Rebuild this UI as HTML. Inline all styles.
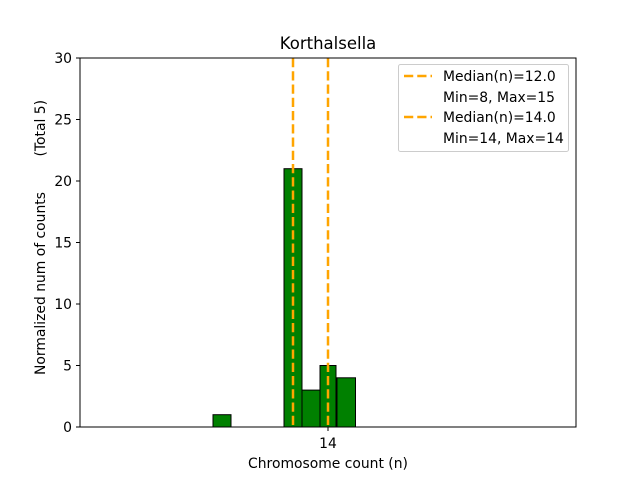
<!DOCTYPE html>
<html><head><style>body{margin:0;background:#fff}</style></head><body>
<svg width="640" height="480" xmlns="http://www.w3.org/2000/svg" font-family="DejaVu Sans, Liberation Sans, sans-serif">
<rect width="640" height="480" fill="#fff"/>
<line x1="80" y1="427" x2="407" y2="427" stroke="#000" stroke-width="1"/>
<g fill="#008000" stroke="#000" stroke-width="1">
<rect x="213" y="414.7" width="18" height="12.3"/>
<rect x="284" y="168.7" width="18" height="258.3"/>
<rect x="302" y="390.1" width="35" height="36.9"/>
<rect x="320" y="365.5" width="16" height="61.5"/>
<rect x="337" y="377.8" width="18.5" height="49.2"/>
</g>
<g stroke="#FFA500" stroke-width="2.5" stroke-dasharray="9.25,4">
<line x1="293" y1="58" x2="293" y2="427"/>
<line x1="328" y1="58" x2="328" y2="427"/>
</g>
<rect x="80" y="58" width="496" height="369" fill="none" stroke="#000" stroke-width="1"/>
<g stroke="#000"><line x1="328" y1="427" x2="328" y2="431"/>
<line x1="76" y1="427" x2="80" y2="427"/><line x1="76" y1="365.5" x2="80" y2="365.5"/><line x1="76" y1="304" x2="80" y2="304"/><line x1="76" y1="242.5" x2="80" y2="242.5"/><line x1="76" y1="181" x2="80" y2="181"/><line x1="76" y1="119.5" x2="80" y2="119.5"/><line x1="76" y1="58" x2="80" y2="58"/></g>
<g font-size="13.9" text-anchor="end" fill="#000">
<text x="72" y="432">0</text><text x="72" y="370.5">5</text><text x="72" y="309">10</text><text x="72" y="247.5">15</text><text x="72" y="186">20</text><text x="72" y="124.5">25</text><text x="72" y="63">30</text></g>
<text x="328" y="448" font-size="13.9" text-anchor="middle">14</text>
<text x="328" y="468" font-size="13.9" text-anchor="middle">Chromosome count (n)</text>
<text x="328" y="49" font-size="16.5" text-anchor="middle">Korthalsella</text>
<text transform="translate(45,375) rotate(-90)" font-size="13.9" text-anchor="start">Normalized num of counts</text>
<text transform="translate(45,100) rotate(-90)" font-size="13.9" text-anchor="end">(Total 5)</text>
<rect x="398.5" y="64.5" width="170" height="87" rx="2" fill="#fff" fill-opacity="0.8" stroke="#ccc"/>
<g stroke="#FFA500" stroke-width="2.5" stroke-dasharray="9.25,4"><line x1="404" y1="76" x2="432" y2="76"/><line x1="404" y1="117" x2="432" y2="117"/></g>
<g font-size="13.9"><text x="443" y="81">Median(n)=12.0</text><text x="443" y="102">Min=8, Max=15</text><text x="443" y="122">Median(n)=14.0</text><text x="443" y="143">Min=14, Max=14</text></g>
</svg>
</body></html>
